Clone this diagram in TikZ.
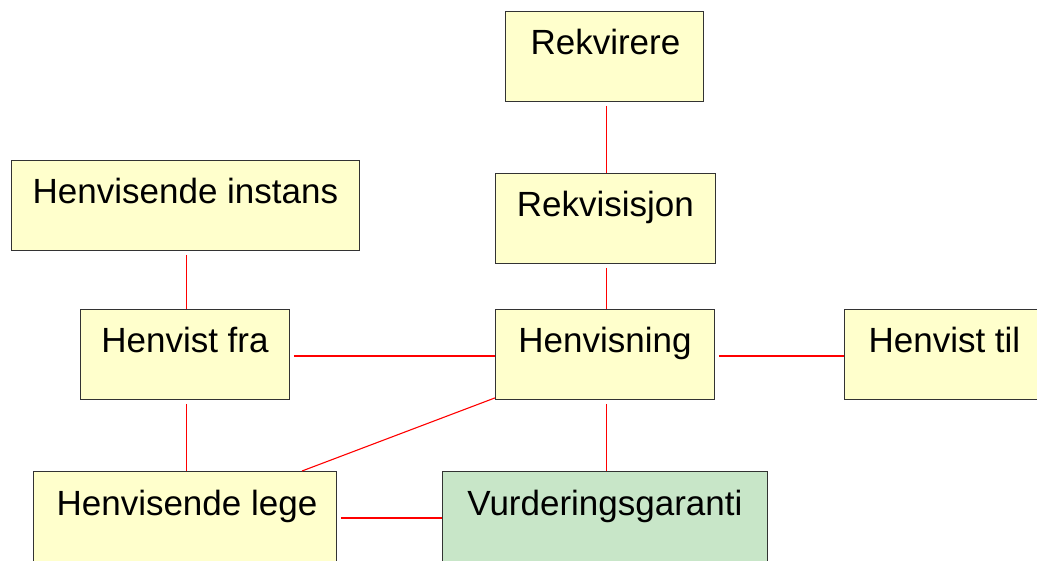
\documentclass[tikz,border=0pt]{standalone}
\usepackage{fontspec}
\setmainfont{Liberation Sans}
\usetikzlibrary{calc}
\definecolor{boxyellow}{RGB}{255,255,204}
\definecolor{boxgreen}{RGB}{200,230,200}
\definecolor{linkred}{RGB}{255,0,0}
\begin{document}
\begin{tikzpicture}[x=1pt,y=-1pt,
  box/.style={draw=black!80, line width=0.9pt, fill=boxyellow, minimum height=90pt,
              inner sep=0pt, anchor=north west},
  greenbox/.style={box, fill=boxgreen},
  link/.style={draw=linkred, line width=1.1pt, shorten <=4pt},
  caption/.style={font=\fontsize{35}{40}\selectfont, anchor=base, inner sep=0pt}]
\useasboundingbox (0,0) rectangle (1037,561);
\clip (0,0) rectangle (1037,561);
\fill[white] (0,0) rectangle (1037,561);

% boxes
\node[box, minimum width=198pt] (rekv)   at (505,11)  {};
\node[box, minimum width=348pt] (inst)   at (11,160)  {};
\node[box, minimum width=220pt] (rekvis) at (495,173) {};
\node[box, minimum width=209pt] (fra)    at (80,309)  {};
\node[box, minimum width=219pt] (hv)     at (495,309) {};
\node[box, minimum width=200pt] (til)    at (844,309) {};
\node[box, minimum width=303pt] (lege)   at (33,471)  {};
\node[greenbox, minimum width=325pt] (vg) at (442,471) {};

% captions, set near the top of each box
\node[caption] (rekvT)   at ($(rekv.north)+(1,44)$)   {Rekvirere};
\node[caption] (instT)   at ($(inst.north)+(0,44)$)   {Henvisende instans};
\node[caption] (rekvisT) at ($(rekvis.north)+(0,44)$) {Rekvisisjon};
\node[caption] (fraT)    at ($(fra.north)+(0,44)$)    {Henvist fra};
\node[caption] (hvT)     at ($(hv.north)+(0,44)$)     {Henvisning};
\node[caption] (tilT)    at ($(til.north)+(0,44)$)    {Henvist til};
\node[caption] (legeT)   at ($(lege.north)+(2,44)$)   {Henvisende lege};
\node[caption] (vgT)     at ($(vg.north)+(0,44)$)     {Vurderingsgaranti};

% connector axes
\coordinate (midaxis) at (606.5,0);
\coordinate (leftaxis) at (186.5,0);
\coordinate (rowaxis) at (0,356);
\coordinate (bottomaxis) at (0,518);

% connectors
\draw[link] (rekv.south -| midaxis) -- (rekvis.north -| midaxis);
\draw[link] (rekvis.south -| midaxis) -- (hv.north -| midaxis);
\draw[link] (inst.south -| leftaxis) -- (fra.north -| leftaxis);
\draw[link] (fra.east |- rowaxis) -- (hv.west |- rowaxis);
\draw[link] (hv.east |- rowaxis) -- (til.west |- rowaxis);
\draw[link] (fra.south -| leftaxis) -- (lege.north -| leftaxis);
\draw[link, shorten <=0pt] ($(hv.south west)+(0,-2)$) -- ($(lege.north west)+(269,0)$);
\draw[link] (hv.south -| midaxis) -- (vg.north -| midaxis);
\draw[link] (lege.east |- bottomaxis) -- (vg.west |- bottomaxis);
\end{tikzpicture}
\end{document}
